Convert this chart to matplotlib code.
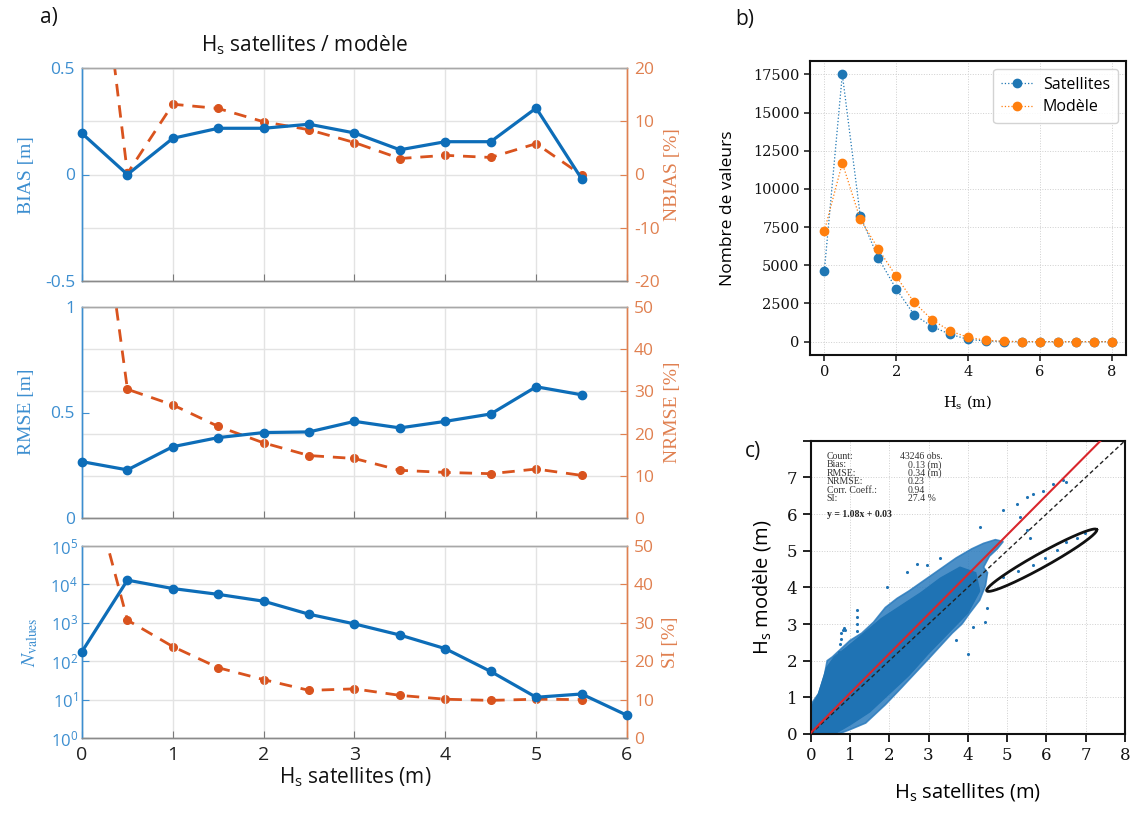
import numpy as np
import matplotlib
matplotlib.use('Agg')
import matplotlib.pyplot as plt
from matplotlib.ticker import FixedLocator, NullFormatter, FixedFormatter

# ---------------- data : panel a ----------------
hs_bins = [0, 0.5, 1, 1.5, 2, 2.5, 3, 3.5, 4, 4.5, 5, 5.5]
hs_bins_n = [0, 0.5, 1, 1.5, 2, 2.5, 3, 3.5, 4, 4.5, 5, 5.5, 6]
bias = [0.193, 0.0, 0.17, 0.217, 0.217, 0.236, 0.195, 0.116, 0.154, 0.154, 0.312, -0.02]
nbias = [71, 0.2, 13.2, 12.4, 9.9, 8.4, 6.0, 3.0, 3.6, 3.2, 5.8, -0.1]
rmse = [0.267, 0.228, 0.338, 0.381, 0.405, 0.408, 0.458, 0.427, 0.458, 0.493, 0.622, 0.584]
nrmse = [110, 30.5, 26.8, 21.7, 17.8, 14.8, 14.1, 11.3, 10.8, 10.5, 11.6, 10.1]
n_values = [178, 12900, 7800, 5500, 3650, 1670, 935, 480, 212, 54, 11.5, 14, 3.9]
si = [75, 30.7, 23.8, 18.3, 15.2, 12.4, 12.8, 11.1, 10.1, 9.8, 10.1, 10.0]

# ---------------- data : panel b ----------------
hist_x = [0, 0.5, 1, 1.5, 2, 2.5, 3, 3.5, 4, 4.5, 5, 5.5, 6, 6.5, 7, 7.5, 8]
sat_counts = [4650, 17500, 8230, 5490, 3450, 1760, 990, 480, 150, 45, 8, 2, 0, 0, 0, 0, 0]
mod_counts = [7240, 11700, 8010, 6080, 4280, 2570, 1430, 700, 285, 90, 15, 3, 1, 0, 0, 0, 0]

# ---------------- data : panel c ----------------
cloud_x = [0.00, 0.70, 1.00, 1.40, 1.90, 2.30, 2.65, 3.00, 3.30, 3.60, 3.85, 4.05, 4.30, 4.45,
           4.50, 4.40, 4.55, 4.75, 4.90, 4.70, 4.40, 4.10, 3.70, 3.30, 2.90, 2.50, 2.20, 1.90,
           1.60, 1.30, 1.00, 0.85, 0.70, 0.55, 0.42, 0.35, 0.20, 0.00]
cloud_y = [0.00, 0.00, 0.12, 0.30, 0.80, 1.25, 1.65, 2.05, 2.40, 2.75, 3.00, 3.30, 3.65, 4.05,
           4.40, 4.55, 4.85, 5.05, 5.25, 5.30, 5.20, 5.05, 4.80, 4.50, 4.20, 3.90, 3.70, 3.45,
           3.05, 2.75, 2.55, 2.40, 2.25, 2.10, 2.00, 1.60, 1.10, 0.80]
core_x = [0.00, 0.60, 1.00, 1.50, 2.00, 2.50, 3.00, 3.50, 4.00, 4.30, 4.20, 3.80, 3.30, 2.80,
          2.30, 1.80, 1.30, 0.90, 0.60, 0.40, 0.20, 0.00]
core_y = [0.00, 0.00, 0.25, 0.60, 1.10, 1.60, 2.20, 2.75, 3.30, 3.90, 4.40, 4.55, 4.25, 3.85,
          3.50, 3.15, 2.70, 2.35, 2.10, 1.80, 1.10, 0.70]
out_x = [4.31, 4.90, 5.24, 5.50, 5.66, 5.92, 6.17, 6.43, 6.51, 5.33, 5.58, 5.50, 4.90, 5.28,
         5.66, 5.96, 6.26, 6.51, 6.77, 6.98, 2.44, 2.70, 2.95, 3.29, 1.93, 1.17, 4.48, 4.43,
         4.14, 4.01, 3.71, 1.17, 1.18, 1.19, 1.20, 0.72, 0.74, 0.76, 0.78, 0.81, 0.85, 0.88]
out_y = [5.65, 6.10, 6.28, 6.46, 6.55, 6.64, 6.83, 6.92, 6.87, 5.92, 5.34, 5.57, 4.29, 4.45,
         4.61, 4.81, 5.02, 5.25, 5.34, 5.47, 4.43, 4.65, 4.60, 4.79, 4.02, 3.38, 3.45, 3.05,
         2.92, 2.19, 2.56, 3.20, 3.00, 2.80, 2.60, 2.25, 2.45, 2.60, 2.75, 2.85, 2.90, 2.85]
fit_slope, fit_intercept = 1.08, 0.03
stat_names = ['Count:', 'Bias:', 'RMSE:', 'NRMSE:', 'Corr. Coeff.:', 'SI:']
stat_values = ['43246 obs.', '0.13 (m)', '0.34 (m)', '0.23', '0.94', '27.4 %']

# ---------------- style ----------------
plt.rcParams['font.family'] = ['Open Sans', 'DejaVu Sans']
plt.rcParams['mathtext.fontset'] = 'custom'
plt.rcParams['mathtext.rm'] = 'Open Sans'
plt.rcParams['mathtext.it'] = 'Open Sans:italic'
plt.rcParams['mathtext.bf'] = 'Open Sans:bold'
plt.rcParams['axes.unicode_minus'] = False

W, H = 1132, 817
BLUE = '#0d6db8'
BLUE_T = '#3c8ed0'
ORNG = '#d9531e'
ORNG_T = '#e08050'
GRID = '#e3e3e3'
SERIF = 'Liberation Serif'

fig = plt.figure(figsize=(W / 100, H / 100), dpi=100)


def rect(l, t, r, b):
    return [l / W, 1 - b / H, (r - l) / W, (b - t) / H]


def fx(x):
    return x / W


def fy(y):
    return 1 - y / H


def panel_a(box, yl, yr, llim, rlim, lticks, rticks, log=False, xlabels=False):
    ax = fig.add_axes(rect(*box))
    ax2 = ax.twinx()
    ax.set_zorder(ax2.get_zorder() + 1)
    ax.patch.set_visible(False)
    ax2.plot(hs_bins, yr, color=ORNG, lw=2.0, dashes=(4.5, 3.2), marker='o', ms=5.5,
             clip_on=True, zorder=3)
    xl = hs_bins_n if log else hs_bins
    ax.plot(xl, yl, '-', color=BLUE, lw=2.3, marker='o', ms=6, clip_on=False, zorder=3)
    if log:
        ax.set_yscale('log')
    ax.set_xlim(0, 6)
    ax.set_ylim(*llim)
    ax2.set_ylim(*rlim)
    ax.set_xticks([0, 1, 2, 3, 4, 5, 6])
    ax.yaxis.set_major_locator(FixedLocator(lticks))
    ax.yaxis.set_minor_locator(FixedLocator([]))
    ax2.yaxis.set_major_locator(FixedLocator(rticks))
    if not xlabels:
        ax.xaxis.set_major_formatter(NullFormatter())
    ax.grid(axis='x', color=GRID, lw=1.0)
    ax2.grid(axis='y', color=GRID, lw=1.0)
    ax.tick_params(axis='x', direction='in', length=5, colors='#7a7a7a', labelcolor='#222222',
                   labelsize=14, pad=6)
    ax.tick_params(axis='y', direction='in', length=5, colors=BLUE_T, labelsize=12.5, pad=5)
    ax2.tick_params(axis='y', direction='in', length=5, colors=ORNG_T, labelsize=12.5, pad=5)
    for a in (ax, ax2):
        a.spines['top'].set_color('#a8a8a8')
        a.spines['bottom'].set_color('#8a8a8a')
        a.spines['left'].set_color(BLUE_T)
        a.spines['right'].set_color(ORNG_T)
        for s in a.spines.values():
            s.set_linewidth(1.0)
    return ax, ax2


# ---- top: bias
ax, ax2 = panel_a((82, 68, 627, 281), bias, nbias, (-0.5, 0.5), (-20, 20),
                  [-0.5, 0, 0.5], [-20, -10, 0, 10, 20])
ax.yaxis.set_major_formatter(FixedFormatter(['-0.5', '0', '0.5']))
# ---- middle: rmse
ax, ax2 = panel_a((82, 307, 627, 518), rmse, nrmse, (0, 1), (0, 50),
                  [0, 0.5, 1], [0, 10, 20, 30, 40, 50])
ax.yaxis.set_major_formatter(FixedFormatter(['0', '0.5', '1']))
# ---- bottom: N values
ax, ax2 = panel_a((82, 546, 627, 738), n_values, si, (1, 1e5), (0, 50),
                  [1, 10, 100, 1e3, 1e4, 1e5], [0, 10, 20, 30, 40, 50],
                  log=True, xlabels=True)
ax.tick_params(axis='y', labelsize=12, pad=3)

# y labels of panel a
fig.text(fx(27), fy(175), 'BIAS [m]', family=SERIF, fontsize=14, color=BLUE_T,
         rotation=90, ha='center', va='center')
fig.text(fx(27), fy(412), 'RMSE [m]', family=SERIF, fontsize=14, color=BLUE_T,
         rotation=90, ha='center', va='center')
fig.text(fx(30), fy(642), r'$N_{\mathrm{values}}$', fontsize=14, color=BLUE_T,
         rotation=90, ha='center', va='center', math_fontfamily='stix')
fig.text(fx(673), fy(175), 'NBIAS [%]', family=SERIF, fontsize=14, color=ORNG_T,
         rotation=90, ha='center', va='center')
fig.text(fx(673), fy(412), 'NRMSE [%]', family=SERIF, fontsize=14, color=ORNG_T,
         rotation=90, ha='center', va='center')
fig.text(fx(671), fy(642), 'SI [%]', family=SERIF, fontsize=14, color=ORNG_T,
         rotation=90, ha='center', va='center')

fig.text(fx(304), fy(45), r'H$_\mathrm{s}$ satellites / modèle', fontsize=15,
         ha='center', va='center', color='#111111')
fig.text(fx(355), fy(777), r'H$_\mathrm{s}$ satellites (m)', fontsize=15,
         ha='center', va='center', color='#111111')
fig.text(fx(40), fy(18), 'a)', fontsize=15, ha='left', va='center', color='#111111')
fig.text(fx(735), fy(20), 'b)', fontsize=15, ha='left', va='center', color='#111111')
fig.text(fx(745), fy(452), 'c)', fontsize=15, ha='left', va='center', color='#111111')

# ---------------- panel b ----------------
axb = fig.add_axes(rect(810, 61, 1126, 355))
axb.plot(hist_x, sat_counts, ':', color='#1f77b4', lw=0.9, marker='o', ms=6,
         label='Satellites')
axb.plot(hist_x, mod_counts, ':', color='#ff7f0e', lw=0.9, marker='o', ms=6,
         label='Modèle')
axb.set_xlim(-0.4, 8.4)
axb.set_ylim(-875, 18375)
axb.set_xticks([0, 2, 4, 6, 8])
axb.set_yticks(np.arange(0, 17501, 2500))
axb.grid(True, color='#cfcfcf', lw=0.7, ls=':')
axb.tick_params(direction='out', length=4, width=1.1, labelsize=10.5, colors='#111111')
for lab in axb.get_xticklabels() + axb.get_yticklabels():
    lab.set_family('DejaVu Serif')
for s in axb.spines.values():
    s.set_linewidth(1.5)
    s.set_color('#111111')
axb.set_ylabel('Nombre de valeurs', fontsize=12.5, labelpad=12)
axb.set_xlabel(r'H$_\mathrm{s}$ (m)', family='DejaVu Serif', math_fontfamily='dejavuserif',
               fontsize=10.5, labelpad=10)
leg = axb.legend(loc='upper right', fontsize=11.5, framealpha=0.85, borderpad=0.5,
                 handlelength=2.0, handletextpad=0.6, labelspacing=0.4)
leg.get_frame().set_edgecolor('#cccccc')

# ---------------- panel c ----------------
axc = fig.add_axes(rect(810.7, 440.7, 1125, 734))
axc.fill(cloud_x, cloud_y, color='#2b7bbd', alpha=0.85, lw=1.2, zorder=2)
axc.fill(core_x, core_y, color='#1f73b4', lw=1.0, zorder=2)
axc.scatter(out_x, out_y, s=5, color='#1f73b4', lw=0, zorder=2)
xl = np.array([0, 8])
axc.plot(xl, xl, color='#222222', lw=1.0, dashes=(3, 2), zorder=3)
axc.plot(xl, fit_slope * xl + fit_intercept, color='#d9262c', lw=1.5, zorder=4)
# annotation ellipse
ec = np.array([5.88, 4.74])
ea = np.array([1.40, 0.835])
eb = np.array([-0.087, 0.167])
t = np.linspace(0, 2 * np.pi, 200)
axc.plot(ec[0] + ea[0] * np.cos(t) + eb[0] * np.sin(t),
         ec[1] + ea[1] * np.cos(t) + eb[1] * np.sin(t), color='#111111', lw=2.0, zorder=5)
axc.set_xlim(0, 8)
axc.set_ylim(0, 8)
axc.set_xticks(range(0, 9))
axc.set_yticks(range(0, 9))
axc.set_yticklabels([str(i) for i in range(8)] + [''])
axc.grid(True, color='#cfcfcf', lw=0.7, ls=':')
axc.set_axisbelow(True)
axc.tick_params(direction='out', length=6, width=1.3, labelsize=12, colors='#111111')
for lab in axc.get_xticklabels() + axc.get_yticklabels():
    lab.set_family('DejaVu Serif')
for s in axc.spines.values():
    s.set_linewidth(1.5)
    s.set_color('#111111')
axc.set_ylabel(r'H$_\mathrm{s}$ modèle (m)', fontsize=14.5, labelpad=10)
axc.set_xlabel(r'H$_\mathrm{s}$ satellites (m)', fontsize=14.5, labelpad=12)
for i, (nm, vl) in enumerate(zip(stat_names, stat_values)):
    yy = 7.57 - i * 0.23
    axc.text(0.41, yy, nm, family=SERIF, fontsize=7, color='#333333', va='center', zorder=6)
    axc.text(2.27 if i == 0 else 2.47, yy, vl, family=SERIF, fontsize=7, color='#333333',
             va='center', zorder=6)
axc.text(0.41, 5.98, 'y = 1.08x + 0.03', family=SERIF, fontsize=7, fontweight='bold',
         color='#222222', va='center', zorder=6)

fig.savefig('out.png', dpi=100)
